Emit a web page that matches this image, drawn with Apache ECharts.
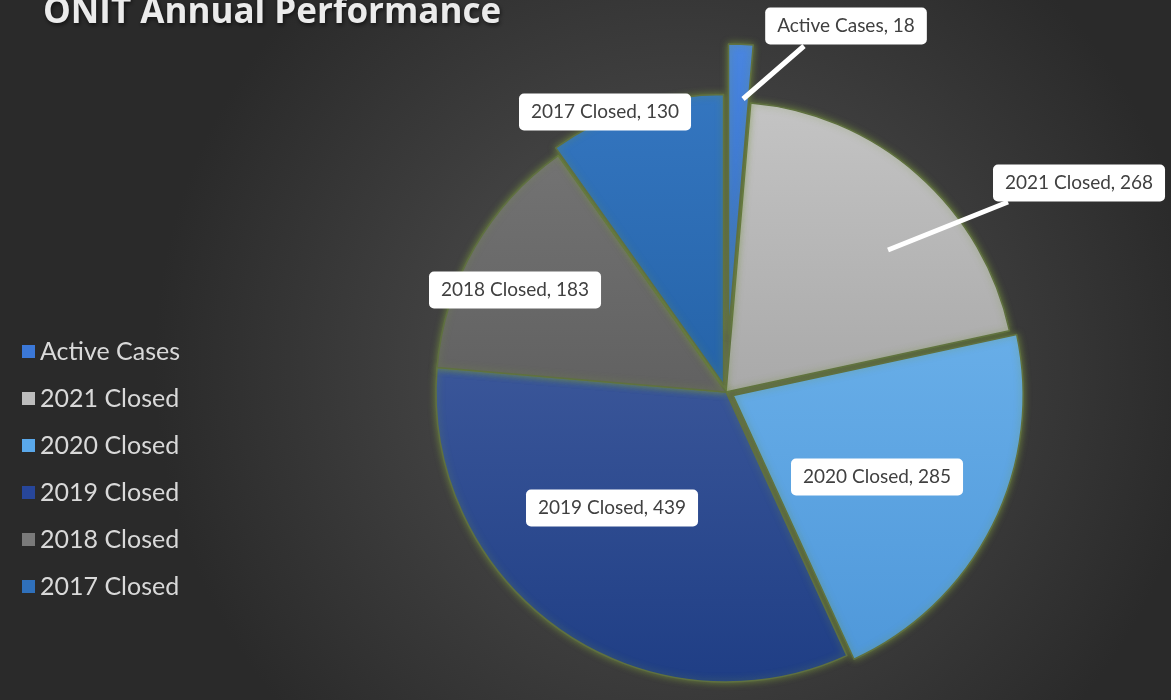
<!DOCTYPE html>
<html>
<head>
<meta charset="utf-8">
<script src="https://cdn.jsdelivr.net/npm/echarts@6/dist/echarts.min.js"></script>
<style>html,body{margin:0;padding:0;background:#333;}#c{width:1171px;height:700px;}</style>
</head>
<body>
<div id="c"></div>
<script>
const categories = ['Active Cases', '2021 Closed', '2020 Closed', '2019 Closed', '2018 Closed', '2017 Closed'];
const values = [18, 268, 285, 439, 183, 130];
const titleText = 'ONIT Annual Performance';

const sliceColors = [
  ['#4a86e0', '#2f6bc8'],
  ['#c4c4c4', '#a9a9a9'],
  ['#68aee8', '#4f98da'],
  ['#3a5699', '#1f3e85'],
  ['#737373', '#616161'],
  ['#3476c0', '#2563a8']
];
const legendColors = ['#3b78d8', '#bdbdbd', '#5aa8ea', '#27469a', '#7a7a7a', '#2f70bb'];
const explodedMain = ['2017 Closed', '2020 Closed'];
const explodedActive = ['Active Cases'];

// label placement relative to pie centre (px)
const labelOffsets = [[120, -366], [353, -209], [151, 85], [-114, 116], [-211, -102], [-121, -280]];
const tailOffsets = { 0: [[17, -293], [78, -346]], 1: [[162, -142], [282, -190]] };

const chart = echarts.init(document.getElementById('c'), null, { renderer: 'canvas' });
const CX = 0.62, CY = 0.56, R = 290;

function grad(i) {
  return new echarts.graphic.LinearGradient(0, 0, 0, 1, [
    { offset: 0, color: sliceColors[i][0] },
    { offset: 1, color: sliceColors[i][1] }
  ]);
}
const clear = { color: 'rgba(0,0,0,0)', borderWidth: 0, shadowBlur: 0 };
const noLabel = { label: { show: false }, labelLine: { show: false } };

const sliceItem = (i, selectedList, visible) => Object.assign({
  name: categories[i], value: values[i],
  selected: visible && selectedList.includes(categories[i]),
  itemStyle: visible ? {
    color: grad(i), borderColor: '#5f7040', borderWidth: 1.5,
    shadowColor: 'rgba(120,150,60,0.75)', shadowBlur: 7
  } : clear
}, noLabel);

const labelItem = (i) => ({
  name: categories[i], value: values[i],
  itemStyle: clear,
  label: {
    show: true, position: tailOffsets[i] ? 'outside' : 'inside',
    backgroundColor: '#ffffff', borderRadius: 5, padding: [9, 12],
    color: '#404040', fontFamily: 'Lato', fontSize: 19,
    formatter: p => p.name + ', ' + p.value
  },
  labelLine: { show: !!tailOffsets[i], lineStyle: { color: '#ffffff', width: 5 } }
});

function layoutFn(params) {
  const w = chart.getWidth(), h = chart.getHeight();
  const cx = w * CX, cy = h * CY;
  const o = labelOffsets[params.dataIndex];
  const res = { x: cx + o[0], y: cy + o[1], align: 'center', verticalAlign: 'middle', hideOverlap: false, moveOverlap: null };
  const t = tailOffsets[params.dataIndex];
  if (t) {
    const a = [cx + t[0][0], cy + t[0][1]], b = [cx + t[1][0], cy + t[1][1]];
    res.labelLinePoints = [a, [(a[0] + b[0]) / 2, (a[1] + b[1]) / 2], b];
  }
  return res;
}

const basePie = {
  type: 'pie', center: [CX * 100 + '%', CY * 100 + '%'], radius: R,
  startAngle: 90, clockwise: true, avoidLabelOverlap: false,
  emphasis: { disabled: true }, silent: true
};

const option = {
  backgroundColor: new echarts.graphic.RadialGradient(0.58, 0.52, 0.75, [
    { offset: 0, color: '#555555' },
    { offset: 1, color: '#2a2a2a' }
  ]),
  animation: false,
  title: {
    text: titleText, left: 38, top: -9,
    textStyle: {
      fontFamily: 'Open Sans', fontWeight: 'bold', fontSize: 35, color: '#ebebeb',
      textShadowColor: 'rgba(0,0,0,0.6)', textShadowBlur: 4, textShadowOffsetX: 1, textShadowOffsetY: 2
    }
  },
  legend: {
    orient: 'vertical', left: 17, top: 334, itemGap: 22,
    itemWidth: 13, itemHeight: 13, icon: 'rect',
    textStyle: { fontFamily: 'Lato', fontSize: 25, color: '#d9d9d9' },
    data: categories.map((c, i) => ({ name: c, itemStyle: { color: legendColors[i], borderWidth: 0, shadowBlur: 0 } })),
    selectedMode: false
  },
  series: [
    Object.assign({}, basePie, {
      selectedMode: 'multiple', selectedOffset: 8,
      data: categories.map((c, i) => sliceItem(i, explodedMain, i !== 0))
    }),
    Object.assign({}, basePie, {
      selectedMode: 'multiple', selectedOffset: 58, z: 3,
      data: categories.map((c, i) => sliceItem(i, explodedActive, i === 0))
    }),
    Object.assign({}, basePie, {
      z: 4, labelLayout: layoutFn,
      data: categories.map((c, i) => labelItem(i))
    })
  ]
};
chart.setOption(option);
</script>
</body>
</html>
